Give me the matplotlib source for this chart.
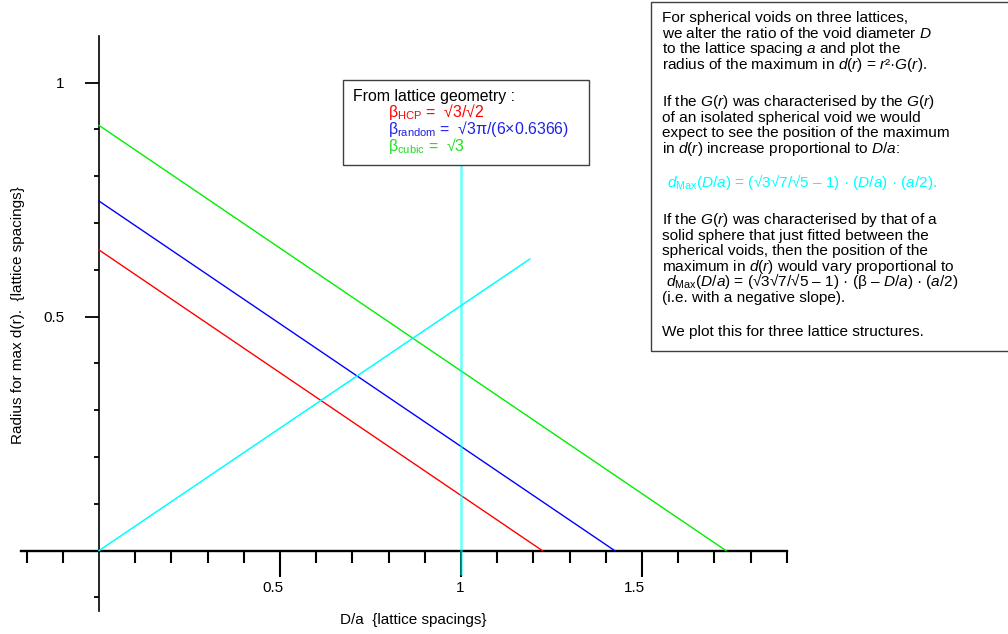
import matplotlib
matplotlib.use("Agg")
import matplotlib.pyplot as plt
from matplotlib.patches import Rectangle
from matplotlib.ticker import FixedLocator
import matplotlib.transforms as mtransforms

plt.rcParams['font.family'] = ['Liberation Sans', 'DejaVu Sans']
plt.rcParams['mathtext.fontset'] = 'custom'
plt.rcParams['mathtext.rm'] = 'Liberation Sans'
plt.rcParams['mathtext.it'] = 'Liberation Sans:italic'
plt.rcParams['mathtext.bf'] = 'Liberation Sans:bold'

# ---- data ----
hcp_x = [0.0, 1.2247]
hcp_y = [0.6425, 0.0]
random_x = [0.0, 1.4246]
random_y = [0.747, 0.0]
cubic_x = [0.0, 1.7321]
cubic_y = [0.9087, 0.0]
void_x = [0.0, 1.19]
void_y = [0.0, 0.623]
marker_x = [1.0, 1.0]
marker_y = [-0.052, 1.0]

x_major = [0.5, 1.0, 1.5]
x_major_labels = ['0.5', '1', '1.5']
x_minor = [-0.2, -0.1, 0.1, 0.2, 0.3, 0.4, 0.6, 0.7, 0.8, 0.9,
           1.1, 1.2, 1.3, 1.4, 1.6, 1.7, 1.8, 1.9]
y_major = [0.5, 1.0]
y_major_labels = ['0.5', '1']
y_minor = [-0.1, 0.1, 0.2, 0.3, 0.4, 0.6, 0.7, 0.8, 0.9, 1.1]

W, H = 1008, 634
fig = plt.figure(figsize=(W / 100, H / 100), dpi=100)

def fx(px):
    return px / W

def fy(py):
    return 1 - py / H

ax = fig.add_axes([fx(21), 23 / H, 766 / W, 575 / H])
ax.set_xlim(-0.2155, 1.9006)
ax.set_ylim(-0.129, 1.0997)
ax.patch.set_visible(False)

for s in ['top', 'right']:
    ax.spines[s].set_visible(False)
ax.spines['left'].set_position(('data', 0))
ax.spines['bottom'].set_position(('data', 0))
ax.spines['bottom'].set_linewidth(1.7)
ax.spines['left'].set_linewidth(1.2)

ax.xaxis.set_major_locator(FixedLocator(x_major))
ax.xaxis.set_minor_locator(FixedLocator(x_minor))
ax.set_xticklabels(x_major_labels)
ax.yaxis.set_major_locator(FixedLocator(y_major))
ax.yaxis.set_minor_locator(FixedLocator(y_minor))
ax.set_yticklabels(y_major_labels)

ax.tick_params(axis='x', which='major', direction='out', length=19, width=1.5,
               pad=3, labelsize=11)
ax.tick_params(axis='x', which='minor', direction='out', length=8.5, width=1.5)
ax.tick_params(axis='y', which='major', direction='out', length=10, width=1.3,
               pad=15, labelsize=11)
ax.tick_params(axis='y', which='minor', direction='out', length=3.6, width=1.3)

offset = mtransforms.ScaledTranslation(3 / 100, 0, fig.dpi_scale_trans)
for lab in ax.get_xticklabels():
    lab.set_horizontalalignment('right')
    lab.set_transform(lab.get_transform() + offset)

# lines
ax.plot(hcp_x, hcp_y, color='#ff0000', lw=1.0, zorder=3)
ax.plot(random_x, random_y, color='#0000ff', lw=1.0, zorder=3)
ax.plot(cubic_x, cubic_y, color='#00ee00', lw=1.0, zorder=3)
ax.plot(void_x, void_y, color='#00ffff', lw=1.1, zorder=3)
ax.plot(marker_x, marker_y, color='#00ffff', lw=1.8, alpha=0.6, zorder=4,
        solid_capstyle='butt')

# axis labels
fig.text(fx(413), fy(620), 'D/a  {lattice spacings}', ha='center', va='center',
         fontsize=11)
fig.text(fx(18), fy(315), 'Radius for max d(r).  {lattice spacings}', ha='center',
         va='center', rotation=90, fontsize=11)

# legend box
LFS = 11.4
fig.patches.append(Rectangle((fx(343), fy(165)), (589 - 343) / W, (165 - 80) / H,
                             transform=fig.transFigure, facecolor='white',
                             edgecolor='#404040', lw=1.0, zorder=10))
fig.text(fx(353), fy(101), 'From lattice geometry :', fontsize=LFS, va='baseline',
         zorder=11)
fig.text(fx(388), fy(117), 'β$_{\\mathrm{HCP}}$ =  √3/√2', fontsize=LFS,
         va='baseline', color='#ff0000', zorder=11)
fig.text(fx(388), fy(134), 'β$_{\\mathrm{random}}$ =  √3π/(6×0.6366)', fontsize=LFS,
         va='baseline', color='#2020e8', zorder=11)
fig.text(fx(388), fy(151), 'β$_{\\mathrm{cubic}}$ =  √3', fontsize=LFS,
         va='baseline', color='#22dd22', zorder=11)

# explanatory box
fig.patches.append(Rectangle((fx(651), fy(351)), (1012 - 651) / W, (351 - 2) / H,
                             transform=fig.transFigure, facecolor='white',
                             edgecolor='#404040', lw=1.0, zorder=10))

lines = [
    (22, 'For spherical voids on three lattices,', 'black'),
    (37.6, 'we alter the ratio of the void diameter $D$', 'black'),
    (53.2, 'to the lattice spacing $a$ and plot the', 'black'),
    (68.8, 'radius of the maximum in $\\mathit{d(r)}$ = $\\mathit{r}$²·$\\mathit{G(r)}$.', 'black'),
    (106, 'If the $\\mathit{G(r)}$ was characterised by the $\\mathit{G(r)}$', 'black'),
    (121.6, 'of an isolated spherical void we would', 'black'),
    (137.2, 'expect to see the position of the maximum', 'black'),
    (152.8, 'in $\\mathit{d(r)}$ increase proportional to $\\mathit{D/a}$:', 'black'),
    (187, '$\\mathit{d}_{\\mathrm{Max}}\\mathit{(D/a)}$ = $\\mathit{(√3√7/√5\\ –\\ 1)}$ · $\\mathit{(D/a)}$ · $\\mathit{(a/2).}$', '#00ffff'),
    (224, 'If the $\\mathit{G(r)}$ was characterised by that of a', 'black'),
    (239.6, 'solid sphere that just fitted between the', 'black'),
    (255.2, 'spherical voids, then the position of the', 'black'),
    (270.8, 'maximum in $\\mathit{d(r)}$ would vary proportional to', 'black'),
    (286.4, ' $\\mathit{d}_{\\mathrm{Max}}\\mathit{(D/a)}$ = $\\mathit{(√3√7/√5\\ –\\ 1)}$ · (β – $\\mathit{D/a}$) · $\\mathit{(a/2)}$', 'black'),
    (302, '(i.e. with a negative slope).', 'black'),
    (336, 'We plot this for three lattice structures.', 'black'),
]
for ypix, txt, col in lines:
    xpix = 667 if col != 'black' else 662
    fig.text(fx(xpix), fy(ypix), txt, fontsize=11.1, va='baseline', color=col,
             zorder=11)

fig.savefig('out.png', dpi=100)
